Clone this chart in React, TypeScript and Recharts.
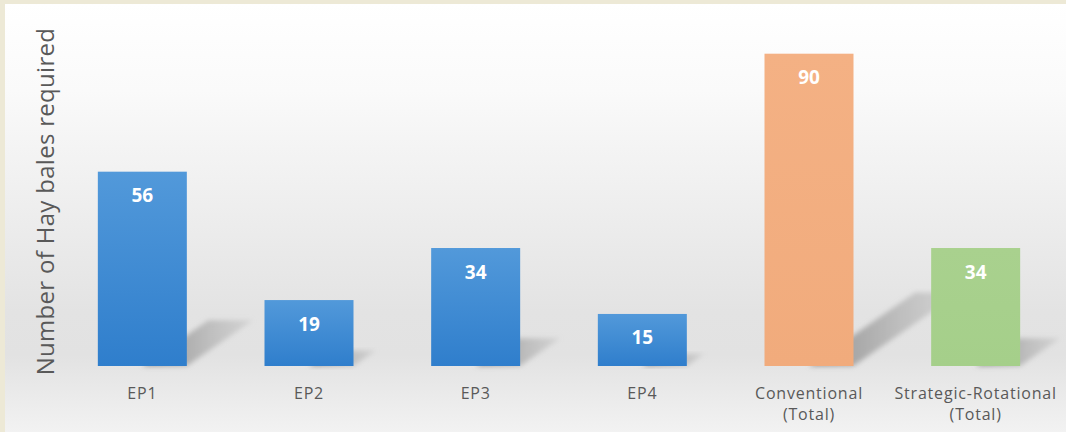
import React from 'react';
import { BarChart, Bar, XAxis, YAxis, Cell, LabelList, Label } from 'recharts';

const categories = ['EP1', 'EP2', 'EP3', 'EP4', 'Conventional\n(Total)', 'Strategic-Rotational\n(Total)'];
const values = [56, 19, 34, 15, 90, 34];
const barKinds = ['blue', 'blue', 'blue', 'blue', 'orange', 'green'];
const yAxisTitle = 'Number of Hay bales required';

const data = categories.map((c, i) => ({ name: c, value: values[i], kind: barKinds[i] }));

const FONT = '"Open Sans", "Noto Sans", sans-serif';

const ShadowBar = (props: any) => {
  const { x, y, width, height, fill } = props;
  if (!height || height <= 0) return null;
  const bottom = y + height;
  const dx = height * 0.34;
  const dy = height * 0.235;
  const pts = [
    [x + width * 0.5, bottom],
    [x + width, bottom],
    [x + width + dx, bottom - dy],
    [x + width * 0.5 + dx, bottom - dy],
  ]
    .map((p) => p.join(','))
    .join(' ');
  return (
    <g>
      <polygon points={pts} fill="url(#shadowGrad)" filter="url(#shadowBlur)" />
      <rect x={x} y={y} width={width} height={height} fill={fill} />
    </g>
  );
};

const Tick = (props: any) => {
  const { x, y, payload } = props;
  const lines = String(payload.value).split('\n');
  return (
    <g transform={`translate(${x},${y})`}>
      {lines.map((l, i) => (
        <text
          key={i}
          x={0}
          y={i * 21}
          dy={25}
          textAnchor="middle"
          fill="#595959"
          fontSize={16}
          letterSpacing={0.8}
          fontFamily={FONT}
        >
          {l}
        </text>
      ))}
    </g>
  );
};

export default function App() {
  return (
    <div style={{ position: 'fixed', left: 0, top: 0, width: 1066, height: 432, background: '#EDE9D6' }}>
      <div
        style={{
          position: 'absolute',
          left: 5,
          top: 4,
          width: 1061,
          height: 428,
          background:
            'linear-gradient(to bottom, #FFFFFF 0%, #FAFAFA 20%, #EFEFEF 45%, #E3E3E3 72%, #E2E2E2 82%, #EBEBEB 92%, #F2F2F2 100%)',
        }}
      />
      <div style={{ position: 'absolute', left: 0, top: 0 }}>
        <BarChart
          width={1066}
          height={432}
          data={data}
          margin={{ top: 19, right: 7, bottom: 0, left: 0 }}
          barCategoryGap="23.3%"
        >
          <defs>
            <linearGradient id="blueGrad" x1="0" y1="0" x2="0" y2="1">
              <stop offset="0%" stopColor="#5299DA" />
              <stop offset="100%" stopColor="#2F7ECC" />
            </linearGradient>
            <linearGradient id="orangeGrad" x1="0" y1="0" x2="0" y2="1">
              <stop offset="0%" stopColor="#F4B184" />
              <stop offset="100%" stopColor="#F1AB7C" />
            </linearGradient>
            <linearGradient id="greenGrad" x1="0" y1="0" x2="0" y2="1">
              <stop offset="0%" stopColor="#A9D18E" />
              <stop offset="100%" stopColor="#A5CF8A" />
            </linearGradient>
            <linearGradient id="shadowGrad" x1="0" y1="0" x2="1" y2="0">
              <stop offset="0%" stopColor="#7F7F7F" stopOpacity={0.85} />
              <stop offset="100%" stopColor="#B5B5B5" stopOpacity={0.35} />
            </linearGradient>
            <filter id="shadowBlur" x="-20%" y="-20%" width="140%" height="140%">
              <feGaussianBlur stdDeviation="2.5" />
            </filter>
          </defs>
          <XAxis
            dataKey="name"
            axisLine={false}
            tickLine={false}
            interval={0}
            height={66}
            tick={<Tick />}
          />
          <YAxis domain={[0, 100]} axisLine={false} tickLine={false} tick={false} width={59}>
            <Label
              content={(p: any) => {
                const vb = p.viewBox || {};
                const cx = 44;
                const cy = (vb.y || 0) + (vb.height || 0) / 2 + 9;
                return (
                  <text
                    x={cx}
                    y={cy}
                    transform={`rotate(-90, ${cx}, ${cy})`}
                    textAnchor="middle"
                    dominantBaseline="central"
                    fill="#595959"
                    fontSize={24}
                    letterSpacing={0.3}
                    fontFamily={FONT}
                  >
                    {yAxisTitle}
                  </text>
                );
              }}
            />
          </YAxis>
          <Bar dataKey="value" isAnimationActive={false} shape={<ShadowBar />}>
            {data.map((d, i) => (
              <Cell key={i} fill={`url(#${d.kind}Grad)`} />
            ))}
            <LabelList
              dataKey="value"
              position="insideTop"
              offset={17}
              fill="#FFFFFF"
              fontSize={19}
              fontWeight="bold"
              fontFamily={FONT}
            />
          </Bar>
        </BarChart>
      </div>
    </div>
  );
}
